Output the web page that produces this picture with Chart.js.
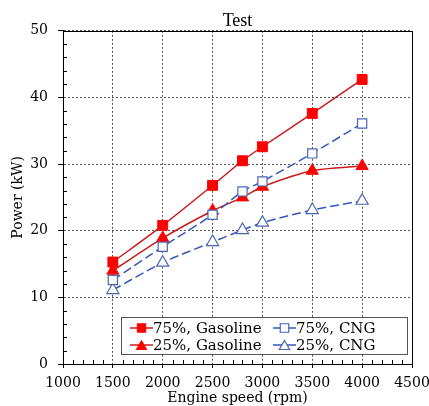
<!DOCTYPE html>
<html>
<head>
<meta charset="utf-8">
<script src="https://cdn.jsdelivr.net/npm/chart.js@4.4.0/dist/chart.umd.min.js"></script>
<style>
  html, body { margin: 0; padding: 0; background: #fff; }
  #wrap { width: 429px; height: 406px; }
</style>
</head>
<body>
<div id="wrap"><canvas id="myChart" width="429" height="406"></canvas></div>
<script>
// Engine speed (rpm)
const rpm = [1500, 2000, 2500, 2800, 3000, 3500, 4000];

// Power (kW)
const gas75 = [15.3, 20.8, 26.8, 30.5, 32.6, 37.6, 42.7];
const gas25 = [14.0, 18.9, 23.0, 25.0, 26.6, 29.0, 29.7];
const cng75 = [12.6, 17.6, 22.4, 25.9, 27.4, 31.6, 36.1];
const cng25 = [11.1, 15.2, 18.3, 20.1, 21.2, 23.1, 24.5];

const labels = ['75%, Gasoline', '75%, CNG', '25%, Gasoline', '25%, CNG'];

const RED = '#ff0000';
const RED_LINE = '#cc1a1a';
const BLUE_LINE = '#3457bd';
const BLUE_MARK = '#4766b5';

const tickFont = { family: 'DejaVu Serif', size: 14, lineHeight: 1 };

function pts(ys) {
    return rpm.map((x, i) => ({ x: x, y: ys[i] }));
}

// minor ticks + closed frame
const framePlugin = {
    id: 'frame',
    afterDraw(chart) {
        const ctx = chart.ctx;
        const a = chart.chartArea;
        const xs = chart.scales.x, ys = chart.scales.y;
        ctx.save();
        ctx.strokeStyle = '#000';
        ctx.lineWidth = 1;
        ctx.beginPath();
        for (let v = 2; v < 50; v += 2) {
            if (v % 10 === 0) continue;
            const y = Math.round(ys.getPixelForValue(v)) + 0.5;
            ctx.moveTo(a.left, y);
            ctx.lineTo(a.left + 4, y);
        }
        for (let v = 1100; v < 4500; v += 100) {
            if (v % 500 === 0) continue;
            const x = Math.round(xs.getPixelForValue(v)) + 0.5;
            ctx.moveTo(x, a.bottom);
            ctx.lineTo(x, a.bottom - 4);
        }
        ctx.stroke();
        ctx.strokeRect(Math.round(a.left) + 0.5, Math.round(a.top) + 0.5,
            Math.round(a.right - a.left), Math.round(a.bottom - a.top));
        ctx.restore();
    }
};

// legend box inside the plot, bottom right
const boxLegend = {
    id: 'boxLegend',
    afterDraw(chart) {
        const ctx = chart.ctx;
        const a = chart.chartArea;
        const bx = Math.round(a.left) + 58, by = Math.round(a.bottom) - 47, bw = 286, bh = 37;
        ctx.save();
        ctx.fillStyle = '#fff';
        ctx.fillRect(bx, by, bw, bh);
        ctx.strokeStyle = '#555';
        ctx.lineWidth = 1;
        ctx.strokeRect(bx + 0.5, by + 0.5, bw, bh);

        const cols = [bx + 9, bx + 152];
        const rows = [by + 11, by + 28];
        ctx.font = '15px "DejaVu Serif"';
        ctx.textBaseline = 'middle';
        for (let k = 0; k < 4; k++) {
            const ds = chart.data.datasets[k];
            const x0 = cols[k % 2], y = rows[Math.floor(k / 2)];
            ctx.save();
            ctx.strokeStyle = ds.borderColor;
            ctx.lineWidth = 1.5;
            ctx.beginPath();
            ctx.moveTo(x0, y);
            ctx.lineTo(x0 + 23, y);
            ctx.stroke();
            ctx.fillStyle = ds.pointBackgroundColor;
            ctx.strokeStyle = ds.pointBorderColor;
            ctx.lineWidth = ds.pointBorderWidth;
            Chart.helpers.drawPoint(ctx, {
                pointStyle: ds.pointStyle,
                radius: 6,
                borderWidth: ds.pointBorderWidth,
                rotation: 0
            }, x0 + 11.5, y + (ds.pointStyle === 'triangle' ? 1.5 : 0));
            ctx.restore();
            ctx.fillStyle = '#000';
            ctx.fillText(labels[k], x0 + 23, y + 1);
        }
        ctx.restore();
    }
};

const ctx = document.getElementById('myChart');

const myChart = new Chart(ctx, {
    type: 'line',
    data: {
        datasets: [{
            label: labels[0],
            data: pts(gas75),
            borderColor: RED_LINE,
            borderWidth: 1.5,
            pointStyle: 'rect',
            pointRadius: 7,
            pointBackgroundColor: RED,
            pointBorderColor: RED,
            pointBorderWidth: 1,
            tension: 0.25
        }, {
            label: labels[1],
            data: pts(cng75),
            borderColor: BLUE_LINE,
            borderWidth: 1.5,
            borderDash: [9, 4],
            pointStyle: 'rect',
            pointRadius: 6.5,
            pointBackgroundColor: '#fff',
            pointBorderColor: BLUE_MARK,
            pointBorderWidth: 1.2,
            tension: 0.25
        }, {
            label: labels[2],
            data: pts(gas25),
            borderColor: RED_LINE,
            borderWidth: 1.5,
            pointStyle: 'triangle',
            pointRadius: 7,
            pointBackgroundColor: RED,
            pointBorderColor: RED,
            pointBorderWidth: 1,
            tension: 0.3
        }, {
            label: labels[3],
            data: pts(cng25),
            borderColor: BLUE_LINE,
            borderWidth: 1.5,
            borderDash: [9, 4],
            pointStyle: 'triangle',
            pointRadius: 7,
            pointBackgroundColor: '#fff',
            pointBorderColor: BLUE_MARK,
            pointBorderWidth: 1.2,
            tension: 0.3
        }]
    },
    options: {
        responsive: false,
        animation: false,
        devicePixelRatio: 1,
        layout: { padding: { left: 0, right: 17, top: 0, bottom: 0 } },
        plugins: {
            legend: { display: false },
            tooltip: { enabled: false },
            title: {
                display: true,
                text: 'Test',
                fullSize: false,
                color: '#000',
                font: { family: 'Liberation Serif', size: 18, weight: 'normal', lineHeight: 1.1 },
                padding: { top: 11, bottom: 0 }
            }
        },
        scales: {
            x: {
                type: 'linear',
                min: 1000,
                max: 4500,
                afterFit: (s) => { s.height = 42; s.paddingRight = 0; },
                ticks: {
                    stepSize: 500, color: '#000', font: tickFont, padding: 8, maxRotation: 0,
                    callback: (v) => String(v)
                },
                grid: { color: '#555', tickColor: '#000', tickLength: 4, drawTicks: true },
                border: { color: '#000', width: 1, dash: [2, 2] },
                title: {
                    display: true,
                    text: 'Engine speed (rpm)',
                    color: '#000',
                    font: { family: 'DejaVu Serif', size: 14, lineHeight: 1 },
                    padding: { top: 0, bottom: 1 }
                }
            },
            y: {
                min: 0,
                max: 50,
                afterFit: (s) => { s.width = 63; },
                ticks: { stepSize: 10, color: '#000', font: tickFont, padding: 10 },
                grid: { color: '#555', tickColor: '#000', tickLength: 5, drawTicks: true },
                border: { color: '#000', width: 1, dash: [2, 2] },
                title: {
                    display: true,
                    text: 'Power (kW)',
                    color: '#000',
                    font: { family: 'DejaVu Serif', size: 14, lineHeight: 1.2 },
                    padding: { top: 10, bottom: 4 }
                }
            }
        }
    },
    plugins: [framePlugin, boxLegend]
});
</script>
</body>
</html>
